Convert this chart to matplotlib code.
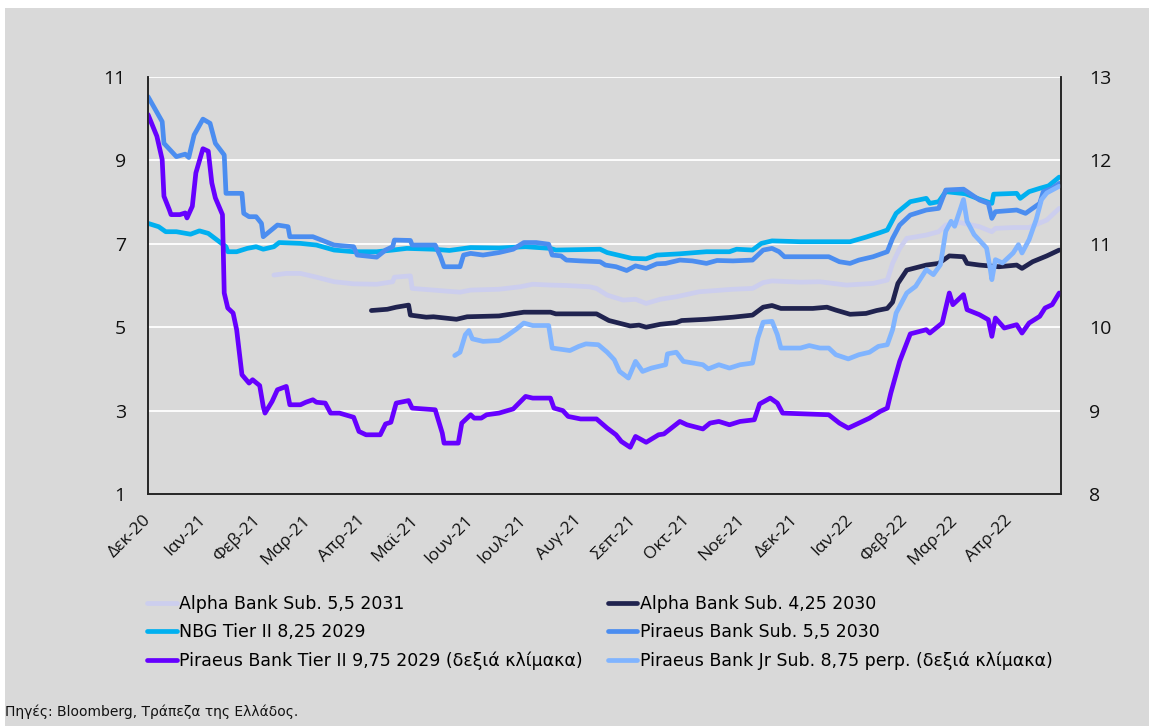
import pandas as pd
import matplotlib.pyplot as plt
from matplotlib.patches import Rectangle

# day counts are days since 1 Dec 2020, yields in %
start = pd.Timestamp("2020-12-01")

alpha31_day = [71, 78, 86, 95, 105, 116, 129, 138, 139, 148, 149, 161, 176, 182, 198, 210, 217, 227, 236, 249,
               253, 259, 268, 275, 281, 289, 298, 311, 330, 341, 347, 352, 368, 379, 394, 409, 417, 420, 424, 428,
               439, 446, 450, 458, 469, 476, 478, 488, 497, 507, 514]
alpha31_yld = [6.25, 6.29, 6.29, 6.20, 6.09, 6.04, 6.03, 6.09, 6.20, 6.23, 5.93, 5.89, 5.84, 5.89, 5.91, 5.97, 6.03,
               6.01, 6.00, 5.97, 5.93, 5.77, 5.65, 5.67, 5.57, 5.67, 5.73, 5.85, 5.91, 5.93, 6.07, 6.11, 6.08, 6.09,
               6.01, 6.05, 6.13, 6.53, 6.89, 7.13, 7.21, 7.29, 7.45, 7.51, 7.41, 7.29, 7.37, 7.39, 7.39, 7.57, 7.85]

alpha30_day = [126, 135, 140, 147, 148, 157, 161, 174, 180, 198, 212, 227, 230, 253, 260, 272, 277, 281, 289, 298,
               301, 315, 330, 341, 347, 352, 357, 375, 383, 388, 396, 405, 411, 417, 420, 423, 428, 439, 446, 452,
               460, 462, 469, 480, 490, 493, 499, 507, 514]
alpha30_yld = [5.40, 5.43, 5.48, 5.53, 5.29, 5.24, 5.25, 5.19, 5.25, 5.27, 5.36, 5.36, 5.32, 5.32, 5.16, 5.03, 5.05,
               5.00, 5.07, 5.11, 5.16, 5.19, 5.24, 5.29, 5.48, 5.52, 5.45, 5.45, 5.48, 5.41, 5.31, 5.33, 5.40, 5.45,
               5.60, 6.05, 6.37, 6.49, 6.53, 6.71, 6.69, 6.53, 6.49, 6.45, 6.49, 6.41, 6.57, 6.71, 6.85]

nbg_day = [0, 6, 10, 16, 24, 29, 34, 39, 44, 45, 50, 56, 61, 65, 71, 74, 86, 95, 105, 116,
           129, 138, 146, 161, 170, 182, 198, 213, 227, 230, 255, 259, 273, 281, 287, 300, 315, 328, 332, 341,
           346, 352, 368, 396, 405, 413, 417, 422, 430, 439, 441, 446, 450, 461, 469, 476, 477, 490, 492, 497,
           503, 508, 514]
nbg_yld = [7.49, 7.41, 7.29, 7.29, 7.23, 7.31, 7.25, 7.09, 6.93, 6.81, 6.81, 6.89, 6.93, 6.87, 6.93, 7.03, 7.01,
           6.97, 6.85, 6.81, 6.81, 6.85, 6.89, 6.87, 6.84, 6.91, 6.90, 6.93, 6.89, 6.85, 6.87, 6.79, 6.65, 6.64,
           6.73, 6.76, 6.81, 6.81, 6.87, 6.85, 7.01, 7.07, 7.05, 7.05, 7.16, 7.27, 7.33, 7.73, 8.01, 8.09, 7.97,
           8.01, 8.25, 8.20, 8.07, 7.97, 8.19, 8.21, 8.09, 8.25, 8.33, 8.39, 8.60]

pir30_day = [0, 8, 9, 16, 21, 23, 26, 31, 35, 38, 43, 44, 53, 54, 57, 61, 64, 65, 73, 79,
             80, 93, 105, 116, 118, 129, 134, 138, 139, 148, 149, 162, 165, 167, 176, 178, 182, 189, 198, 206,
             212, 219, 226, 228, 233, 236, 244, 255, 258, 264, 270, 275, 281, 287, 292, 300, 307, 315, 321, 330,
             341, 347, 352, 356, 359, 384, 390, 396, 401, 409, 417, 420, 424, 430, 439, 446, 450, 460, 469, 474,
             476, 478, 490, 495, 503, 505, 510, 514]
pir30_yld = [10.53, 9.93, 9.41, 9.09, 9.15, 9.07, 9.61, 9.99, 9.89, 9.41, 9.13, 8.21, 8.21, 7.73, 7.65, 7.65, 7.49,
             7.17, 7.45, 7.41, 7.17, 7.17, 6.97, 6.93, 6.73, 6.68, 6.85, 6.93, 7.09, 7.08, 6.97, 6.97, 6.69, 6.45,
             6.45, 6.73, 6.77, 6.73, 6.79, 6.87, 7.03, 7.03, 6.99, 6.73, 6.71, 6.61, 6.59, 6.57, 6.49, 6.45, 6.36,
             6.47, 6.41, 6.52, 6.53, 6.61, 6.59, 6.53, 6.60, 6.59, 6.61, 6.85, 6.89, 6.81, 6.69, 6.69, 6.57, 6.53,
             6.61, 6.69, 6.81, 7.13, 7.45, 7.69, 7.81, 7.85, 8.29, 8.31, 8.05, 7.97, 7.61, 7.77, 7.81, 7.73, 7.97,
             8.25, 8.33, 8.45]

# right scale
pirt2_day = [0, 5, 8, 9, 12, 13, 18, 21, 22, 25, 27, 31, 34, 36, 38, 42, 43, 45, 48, 50,
             53, 57, 59, 63, 65, 66, 70, 73, 78, 80, 86, 89, 93, 95, 100, 103, 108, 116, 119, 123,
             131, 134, 137, 140, 147, 149, 162, 166, 167, 175, 177, 182, 184, 188, 191, 198, 206, 213, 217, 227,
             229, 234, 237, 244, 253, 259, 264, 267, 272, 275, 281, 288, 291, 300, 304, 313, 317, 322, 328, 334,
             342, 345, 351, 355, 358, 384, 390, 395, 401, 407, 413, 417, 419, 424, 430, 439, 441, 448, 452, 454,
             460, 462, 469, 474, 476, 478, 483, 490, 493, 497, 503, 506, 510, 514]
pirt2_yld = [12.55, 12.29, 12.01, 11.57, 11.41, 11.35, 11.35, 11.37, 11.31, 11.45, 11.85, 12.14, 12.11, 11.73, 11.55,
             11.35, 10.41, 10.23, 10.17, 9.97, 9.43, 9.33, 9.37, 9.30, 9.05, 8.97, 9.11, 9.25, 9.29, 9.07, 9.07,
             9.10, 9.13, 9.10, 9.09, 8.97, 8.97, 8.92, 8.75, 8.71, 8.71, 8.84, 8.86, 9.09, 9.12, 9.03, 9.01, 8.73,
             8.61, 8.61, 8.85, 8.95, 8.91, 8.91, 8.95, 8.97, 9.02, 9.17, 9.15, 9.15, 9.03, 9.00, 8.93, 8.90, 8.90,
             8.79, 8.71, 8.63, 8.56, 8.69, 8.62, 8.71, 8.72, 8.87, 8.83, 8.78, 8.85, 8.87, 8.83, 8.87, 8.89, 9.08,
             9.15, 9.09, 8.97, 8.95, 8.85, 8.79, 8.85, 8.91, 8.99, 9.03, 9.21, 9.59, 9.92, 9.97, 9.93, 10.05, 10.41,
             10.27, 10.39, 10.21, 10.15, 10.09, 9.89, 10.11, 9.99, 10.03, 9.93, 10.05, 10.13, 10.23, 10.27, 10.41]

pirjr_day = [173, 176, 179, 181, 183, 189, 198, 202, 208, 212, 217, 226, 228, 238, 243, 247, 254, 259, 263, 266,
             271, 275, 279, 284, 292, 293, 298, 302, 313, 316, 322, 328, 334, 341, 344, 347, 352, 355, 357, 368,
             373, 379, 384, 388, 395, 401, 407, 412, 417, 420, 422, 428, 433, 439, 443, 447, 450, 453, 455, 460,
             462, 466, 473, 475, 476, 478, 482, 488, 491, 493, 497, 501, 504, 507, 514]
pirjr_yld = [9.66, 9.70, 9.91, 9.96, 9.86, 9.83, 9.84, 9.89, 9.98, 10.05, 10.02, 10.02, 9.75, 9.72, 9.77, 9.80, 9.79,
             9.70, 9.61, 9.47, 9.39, 9.59, 9.47, 9.51, 9.55, 9.68, 9.70, 9.59, 9.55, 9.50, 9.55, 9.51, 9.55, 9.57,
             9.87, 10.06, 10.07, 9.91, 9.75, 9.75, 9.78, 9.75, 9.75, 9.67, 9.62, 9.67, 9.70, 9.77, 9.79, 9.97, 10.17,
             10.41, 10.49, 10.69, 10.63, 10.75, 11.15, 11.27, 11.21, 11.53, 11.27, 11.11, 10.95, 10.71, 10.57, 10.81,
             10.77, 10.89, 10.99, 10.89, 11.05, 11.29, 11.53, 11.61, 11.69]

month_labels = ["Δεκ-20", "Ιαν-21", "Φεβ-21", "Μαρ-21", "Απρ-21", "Μαϊ-21", "Ιουν-21", "Ιουλ-21", "Αυγ-21",
                "Σεπ-21", "Οκτ-21", "Νοε-21", "Δεκ-21", "Ιαν-22", "Φεβ-22", "Μαρ-22", "Απρ-22"]

names = ["Alpha Bank Sub. 5,5 2031", "Alpha Bank Sub. 4,25 2030", "NBG Tier II 8,25 2029",
         "Piraeus Bank Sub. 5,5 2030", "Piraeus Bank Tier II 9,75 2029 (δεξιά κλίμακα)",
         "Piraeus Bank Jr Sub. 8,75 perp. (δεξιά κλίμακα)"]
colors = ["#ccceee", "#20234f", "#00b0f0", "#4b8df0", "#6600ff", "#80b4ff"]

bg = "#d9d9d9"
tick_font = ["Open Sans", "DejaVu Sans"]


def to_dates(days):
    return start + pd.to_timedelta(days, unit="D")


W, H = 1149, 726
fig = plt.figure(figsize=(W / 100, H / 100), dpi=100)
fig.patch.set_facecolor("white")
fig.add_artist(Rectangle((5 / W, 0), 1, (H - 8) / H, transform=fig.transFigure,
                         facecolor=bg, edgecolor="none", zorder=-5))

ax = fig.add_axes([148 / W, (H - 494) / H, (1061 - 148) / W, (494 - 77) / H])
ax.set_facecolor("none")
ax2 = ax.twinx()
ax2.set_facecolor("none")

lw = 3.4
kw = dict(lw=lw, solid_joinstyle="round", solid_capstyle="round")
lines = {}
lines[0], = ax.plot(to_dates(alpha31_day), alpha31_yld, color=colors[0], **kw)
lines[1], = ax.plot(to_dates(alpha30_day), alpha30_yld, color=colors[1], **kw)
lines[2], = ax.plot(to_dates(nbg_day), nbg_yld, color=colors[2], **kw)
lines[3], = ax.plot(to_dates(pir30_day), pir30_yld, color=colors[3], **kw)
lines[4], = ax2.plot(to_dates(pirt2_day), pirt2_yld, color=colors[4], **kw)
lines[5], = ax2.plot(to_dates(pirjr_day), pirjr_yld, color=colors[5], **kw)

ax.set_ylim(1, 11)
ax.set_yticks([1, 3, 5, 7, 9, 11])
ax2.set_ylim(8, 13)
ax2.set_yticks([8, 9, 10, 11, 12, 13])
ax.set_xlim(start, start + pd.Timedelta(days=515))

ticks = pd.date_range("2020-12-01", "2022-04-01", freq="MS")
ax.set_xticks(ticks)
ax.set_xticklabels(month_labels, rotation=45, ha="right", va="center", rotation_mode="anchor",
                   family=tick_font, fontsize=12.5, color="#111111")

ax.yaxis.grid(True, color="white", lw=1.3)
ax.set_axisbelow(True)

for a in (ax, ax2):
    a.spines["top"].set_visible(False)
    for s in ("left", "right", "bottom"):
        a.spines[s].set_color("#262626")
        a.spines[s].set_linewidth(1.2)
    a.tick_params(length=0)

ax.tick_params(axis="y", pad=16)
ax.tick_params(axis="x", pad=17)
ax2.tick_params(axis="y", pad=20)
for lab in ax.get_yticklabels() + ax2.get_yticklabels():
    lab.set_family(tick_font)
    lab.set_fontsize(14)
    lab.set_color("#111111")

order = [0, 2, 4, 1, 3, 5]
fig.legend([lines[i] for i in order], [names[i] for i in order], ncol=2, frameon=False,
           loc="upper left", bbox_to_anchor=(147 / W, (H - 595) / H), bbox_transform=fig.transFigure,
           prop={"family": "DejaVu Sans", "size": 12.5}, handlelength=1.7, handletextpad=0.15,
           columnspacing=1.45, labelspacing=0.58, borderpad=0, borderaxespad=0)

fig.text(5 / W, (H - 712) / H, "Πηγές: Bloomberg, Τράπεζα της Ελλάδος.", fontsize=10,
         family="DejaVu Sans", va="center", ha="left", color="#111111")

fig.savefig("out.png", dpi=100, facecolor=fig.get_facecolor())
